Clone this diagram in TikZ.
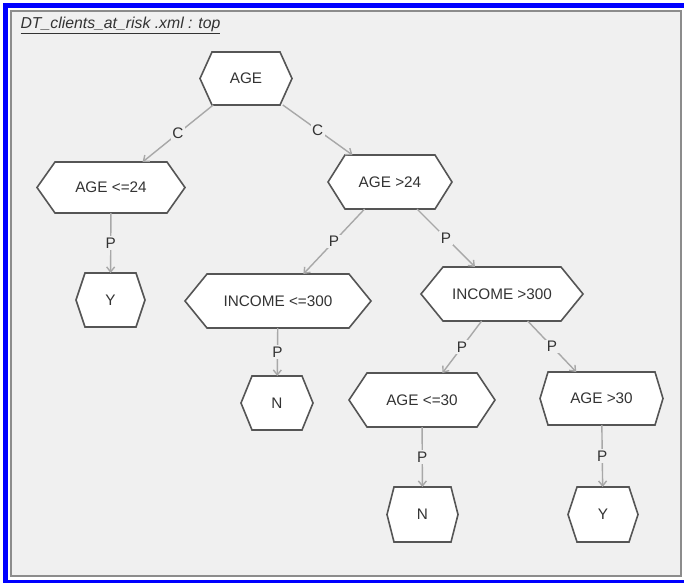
\documentclass[tikz,border=0pt]{standalone}
\usepackage{fontspec}
\setmainfont{Liberation Sans}
\usetikzlibrary{arrows.meta}

\definecolor{panel}{HTML}{F0F0F0}
\definecolor{frameblue}{HTML}{0000FF}
\definecolor{framegray}{HTML}{8C8C8C}
\definecolor{hexedge}{HTML}{555555}
\definecolor{linkgray}{HTML}{A8A8A8}
\definecolor{ink}{HTML}{333333}

\tikzset{
  hexbox/.style={draw=none, inner sep=0pt, outer sep=0pt, text=ink,
                 font=\fontsize{15.3}{18}\selectfont},
  hexline/.style={draw=hexedge, fill=white, line width=1.6pt, line join=miter},
  link/.style={draw=linkgray, line width=1.4pt,
               -{Straight Barb[length=5pt,width=8pt]}},
  lbl/.style={fill=panel, inner sep=1.5pt, text=ink,
              font=\fontsize{15.3}{18}\selectfont},
}

% #1 name, #2 x, #3 y, #4 width, #5 height, #6 slant of the pointed sides, #7 text
\newcommand{\hexnode}[7]{%
  \begin{scope}[shift={(#2,#3)}]
    \path[hexline] (-#4/2+#6,-#5/2) -- (#4/2-#6,-#5/2) -- (#4/2,0)
      -- (#4/2-#6,#5/2) -- (-#4/2+#6,#5/2) -- (-#4/2,0) -- cycle;
  \end{scope}
  \node[hexbox, minimum width=#4, minimum height=#5] (#1) at (#2,#3) {#7};
}

\begin{document}
\begin{tikzpicture}[x=1pt, y=-1pt]
  \useasboundingbox (0,0) rectangle (684,583);
  % window frame
  \fill[white] (0,0) rectangle (684,583);
  \fill[frameblue] (3,3) rectangle (684,8);
  \fill[frameblue] (3,3) rectangle (8,583);
  \fill[frameblue] (3,580) rectangle (684,583);
  \filldraw[fill=panel, draw=framegray, line width=1.5pt] (11,11) rectangle (681,576);

  % title
  \node[anchor=base west, text=ink, font=\itshape\fontsize{15.8}{18}\selectfont]
    (title) at (17,29) {\underline{DT\_clients\_at\_risk .xml : top}};

  % decision tree nodes
  \hexnode{age}{246}{78.5}{92}{53}{12}{AGE}
  \hexnode{agele24}{111}{187.5}{148}{51}{18}{AGE <=24}
  \hexnode{yleft}{110.5}{300}{69}{54}{9}{Y}
  \hexnode{agegt24}{390}{182}{124}{54}{17}{AGE >24}
  \hexnode{incle}{278}{301}{186}{54}{22}{INCOME <=300}
  \hexnode{nleft}{277}{403}{72}{54}{11}{N}
  \hexnode{incgt}{502}{294}{162}{54}{22}{INCOME >300}
  \hexnode{agele30}{422}{400}{146}{54}{18}{AGE <=30}
  \hexnode{agegt30}{601.5}{398.5}{123}{53}{8}{AGE >30}
  \hexnode{nright}{422.5}{514.5}{71}{55}{7}{N}
  \hexnode{yright}{603}{514.5}{70}{55}{9}{Y}

  % connectors
  \draw[link] (age) -- node[lbl] (c1) {C} (agele24);
  \draw[link] (age) -- node[lbl] (c2) {C} (agegt24);
  \draw[link] (agele24) -- node[lbl] (p1) {P} (yleft);
  \draw[link] (agegt24) -- node[lbl] (p2) {P} (incle);
  \draw[link] (agegt24) -- node[lbl] (p3) {P} (incgt);
  \draw[link] (incle) -- node[lbl] (p4) {P} (nleft);
  \draw[link] (incgt) -- node[lbl] (p5) {P} (agele30);
  \draw[link] (incgt) -- node[lbl] (p6) {P} (agegt30);
  \draw[link] (agele30) -- node[lbl] (p7) {P} (nright);
  \draw[link] (agegt30) -- node[lbl] (p8) {P} (yright);
\end{tikzpicture}
\end{document}
